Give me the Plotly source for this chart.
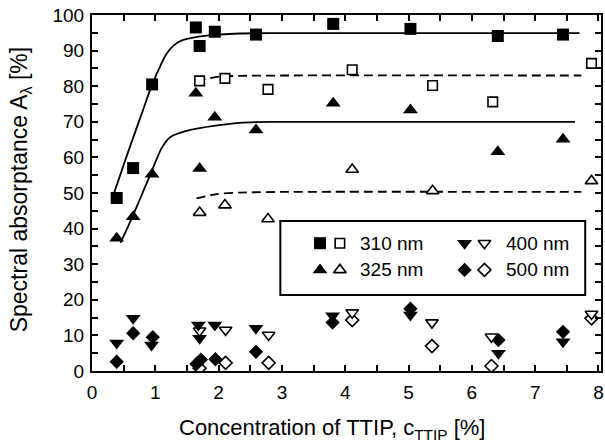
import plotly.graph_objects as go

# ---- data ----
c310_filled = [0.39, 0.65, 0.95, 1.64, 1.70, 1.94, 2.59, 3.81, 5.03, 6.41, 7.44]
a310_filled = [48.6, 57.0, 80.5, 96.5, 91.3, 95.3, 94.5, 97.5, 96.1, 94.1, 94.5]
c310_open = [1.70, 2.10, 2.78, 4.11, 5.38, 6.33, 7.89]
a310_open = [81.5, 82.2, 79.1, 84.6, 80.2, 75.6, 86.4]

c325_filled = [0.39, 0.65, 0.95, 1.64, 1.70, 1.94, 2.59, 3.81, 5.03, 6.41, 7.44]
a325_filled = [37.3, 43.3, 55.3, 78.0, 56.9, 71.3, 67.7, 75.2, 73.3, 61.6, 65.1]
c325_open = [1.70, 2.10, 2.78, 4.11, 5.38, 7.89]
a325_open = [44.5, 46.6, 42.7, 56.6, 50.6, 53.4]

c400_filled = [0.39, 0.65, 0.94, 1.68, 1.70, 1.94, 2.59, 3.80, 5.03, 6.42, 7.44]
a400_filled = [7.9, 14.8, 7.3, 12.9, 9.2, 12.9, 12.0, 15.5, 15.7, 5.0, 8.2]
c400_open = [1.70, 2.11, 2.79, 4.11, 5.37, 6.31, 7.89]
a400_open = [11.3, 11.5, 10.1, 16.4, 13.6, 9.6, 16.0]

c500_filled = [0.39, 0.65, 0.96, 1.65, 1.72, 1.95, 2.59, 3.80, 5.03, 6.42, 7.44]
a500_filled = [2.6, 10.6, 9.5, 2.0, 3.2, 3.3, 5.4, 13.6, 17.5, 8.7, 11.0]
c500_open = [1.70, 2.11, 2.79, 4.11, 5.37, 6.31, 7.89]
a500_open = [0.8, 2.3, 2.3, 14.3, 7.0, 1.4, 14.8]

# fitted curves
fit310_c = [0.33, 0.55, 0.80, 0.94, 1.10, 1.18, 1.30, 1.44, 1.81, 2.33, 3.00, 7.70]
fit310_a = [49.0, 60.5, 73.0, 80.0, 86.5, 89.2, 91.6, 93.0, 94.2, 94.8, 94.9, 94.9]
fit325_c = [0.45, 0.65, 0.92, 1.10, 1.23, 1.55, 2.33, 3.00, 7.63]
fit325_a = [36.0, 43.8, 55.1, 62.6, 65.6, 67.7, 69.7, 70.0, 70.0]
dash310_c = [1.65, 2.02, 2.33, 3.00, 7.73]
dash310_a = [81.5, 82.7, 82.9, 83.0, 83.0]
dash325_c = [1.65, 1.97, 2.33, 3.00, 7.73]
dash325_a = [48.5, 49.7, 50.1, 50.3, 50.3]

legend_labels = ["310 nm", "325 nm", "400 nm", "500 nm"]
x_ticks = [0, 1, 2, 3, 4, 5, 6, 7, 8]
y_ticks = [0, 10, 20, 30, 40, 50, 60, 70, 80, 90, 100]

FONT = "Liberation Sans, Arial, Helvetica, sans-serif"
BLACK = "black"

fig = go.Figure()

def line(xs, ys, dash):
    fig.add_trace(go.Scatter(x=xs, y=ys, mode="lines", line_shape="spline",
                             line=dict(color=BLACK, width=1.8, dash=dash, smoothing=0.8),
                             hoverinfo="skip", showlegend=False))

line(fit310_c, fit310_a, "solid")
line(fit325_c, fit325_a, "solid")
line(dash310_c, dash310_a, "9px,5px")
line(dash325_c, dash325_a, "9px,5px")

def pts(xs, ys, symbol, size, filled):
    fig.add_trace(go.Scatter(
        x=xs, y=ys, mode="markers", showlegend=False,
        marker=dict(symbol=symbol, size=size,
                    color=BLACK if filled else "white",
                    line=dict(color=BLACK, width=0 if filled else 1.6))))

pts(c500_open, a500_open, "diamond", 10, False)
pts(c500_filled, a500_filled, "diamond", 11, True)
pts(c400_open, a400_open, "triangle-down", 11, False)
pts(c400_filled, a400_filled, "triangle-down", 13, True)
pts(c325_open, a325_open, "triangle-up", 11, False)
pts(c325_filled, a325_filled, "triangle-up", 13, True)
pts(c310_open, a310_open, "square", 9.5, False)
pts(c310_filled, a310_filled, "square", 12, True)

# ---- manual legend (two symbols per entry) ----
leg_rows = [0.359, 0.284]
leg_cols = [(0.448, 0.487, 0.522), (0.732, 0.771, 0.810)]
leg_syms = [["square", "triangle-up"], ["triangle-down", "diamond"]]
leg_sizes = [[(12, 9.5), (13, 11)], [(13, 11), (11, 10)]]
for ci, (xf, xo, xt) in enumerate(leg_cols):
    for ri, yr in enumerate(leg_rows):
        sym = leg_syms[ci][ri]
        sf, so = leg_sizes[ci][ri]
        fig.add_trace(go.Scatter(x=[xf], y=[yr], xaxis="x2", yaxis="y2", mode="markers",
                                 showlegend=False, hoverinfo="skip",
                                 marker=dict(symbol=sym, size=sf, color=BLACK, line=dict(width=0))))
        fig.add_trace(go.Scatter(x=[xo], y=[yr], xaxis="x2", yaxis="y2", mode="markers",
                                 showlegend=False, hoverinfo="skip",
                                 marker=dict(symbol=sym, size=so, color="white",
                                             line=dict(color=BLACK, width=1.6))))
        fig.add_annotation(x=xt, y=yr, xref="paper", yref="paper", xanchor="left",
                           yanchor="middle", showarrow=False,
                           text=legend_labels[ci * 2 + ri],
                           font=dict(family=FONT, size=19, color=BLACK))

fig.add_shape(type="rect", xref="paper", yref="paper", x0=0.370, x1=0.969,
              y0=0.2135, y1=0.421, line=dict(color=BLACK, width=2),
              fillcolor="rgba(0,0,0,0)", layer="above")

axis_common = dict(showline=True, linecolor=BLACK, linewidth=2, mirror="ticks",
                   ticks="inside", tickcolor=BLACK, tickwidth=1.5, ticklen=6,
                   showgrid=False, zeroline=False,
                   tickfont=dict(family=FONT, size=19, color=BLACK))

fig.update_layout(
    width=605, height=444,
    margin=dict(l=92, r=2, t=15, b=73),
    paper_bgcolor="white", plot_bgcolor="white",
    showlegend=False,
    xaxis=dict(range=[0, 8.04], tickvals=x_ticks, ticklabelstandoff=3,
               minor=dict(dtick=0.5, ticks="inside", ticklen=6, tickwidth=1.5, tickcolor=BLACK),
               **axis_common),
    yaxis=dict(range=[0, 100], tickvals=y_ticks, ticklabelstandoff=2,
               minor=dict(dtick=5, ticks="inside", ticklen=6, tickwidth=1.5, tickcolor=BLACK),
               **axis_common),
    xaxis2=dict(overlaying="x", range=[0, 1], visible=False, anchor="y2"),
    yaxis2=dict(overlaying="y", range=[0, 1], visible=False, anchor="x2"),
)

fig.add_annotation(x=-0.141, y=0.511, xref="paper", yref="paper", textangle=-90,
                   showarrow=False, xanchor="center", yanchor="middle",
                   text="Spectral absorptance A<sub>λ</sub> [%]",
                   font=dict(family=FONT, size=23, color=BLACK))
fig.add_annotation(x=0.4706, y=-0.163, xref="paper", yref="paper",
                   showarrow=False, xanchor="center", yanchor="middle",
                   text="Concentration of TTIP, c<sub>TTIP</sub> [%]",
                   font=dict(family=FONT, size=22, color=BLACK))

fig.write_html("out.html")
